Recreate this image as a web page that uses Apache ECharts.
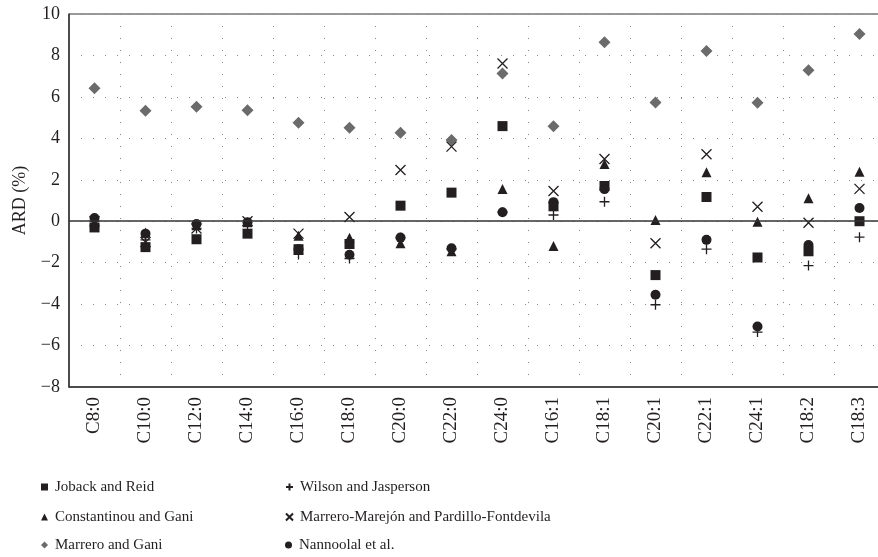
<!DOCTYPE html>
<html>
<head>
<meta charset="utf-8">
<script src="https://cdn.jsdelivr.net/npm/echarts@6/dist/echarts.min.js"></script>
<style>
  html, body { margin: 0; padding: 0; background: #fff; }
  #chart { width: 878px; height: 557px; }
</style>
</head>
<body>
<div id="chart"></div>
<script>
// Fatty acid chain labels (carbon count : double bonds)
const categories = ['C8:0', 'C10:0', 'C12:0', 'C14:0', 'C16:0', 'C18:0', 'C20:0', 'C22:0',
  'C24:0', 'C16:1', 'C18:1', 'C20:1', 'C22:1', 'C24:1', 'C18:2', 'C18:3'];

// Average relative deviation (%) per estimation method
const joback       = [-0.30, -1.25, -0.87, -0.60, -1.35, -1.10, 0.75, 1.38, 4.59, 0.72, 1.70, -2.60, 1.17, -1.75, -1.45, 0.00];
const constantinou = [-0.10, -0.55, -0.20, -0.05, -0.70, -0.80, -1.06, -1.45, 1.56, -1.19, 2.76, 0.06, 2.36, -0.02, 1.11, 2.39];
const marrero      = [6.42, 5.33, 5.52, 5.35, 4.75, 4.51, 4.27, 3.92, 7.13, 4.58, 8.64, 5.73, 8.21, 5.72, 7.29, 9.04];
const wilson       = [0.00, -0.90, -0.35, -0.20, -1.60, -1.80, -0.80, -1.35, 0.45, 0.30, 0.94, -4.03, -1.35, -5.35, -2.14, -0.77];
const mmpf         = [0.00, -1.00, -0.35, 0.00, -0.60, 0.20, 2.47, 3.60, 7.61, 1.46, 3.00, -1.06, 3.23, 0.70, -0.07, 1.56];
const nannoolal    = [0.15, -0.60, -0.13, -0.05, -1.35, -1.62, -0.79, -1.30, 0.43, 0.92, 1.55, -3.55, -0.90, -5.08, -1.15, 0.64];

const yTicks = { min: -8, max: 10, interval: 2 };

const names = {
  joback: 'Joback and Reid',
  constantinou: 'Constantinou and Gani',
  marrero: 'Marrero and Gani',
  wilson: 'Wilson and Jasperson',
  mmpf: 'Marrero-Marejón and Pardillo-Fontdevila',
  nannoolal: 'Nannoolal et al.'
};

const INK = '#231f20';
const SERIF = '"Liberation Serif", "DejaVu Serif", serif';
const PLUS = 'path://M0,5L10,5M5,0L5,10';
const CROSS = 'path://M0,0L10,10M10,0L0,10';

function filled(name, data, symbol, size, color) {
  return {
    name, type: 'scatter', data, symbol, symbolSize: size,
    itemStyle: { color: color, opacity: 1 },
    emphasis: { disabled: true }
  };
}
function stroked(name, data, symbol, size) {
  return {
    name, type: 'scatter', data, symbol, symbolSize: size,
    itemStyle: { color: 'rgba(0,0,0,0)', borderColor: INK, borderWidth: 1.3, opacity: 1 },
    emphasis: { disabled: true }
  };
}

const series = [
  filled(names.joback, joback, 'rect', 10, INK),
  filled(names.constantinou, constantinou, 'triangle', 10, INK),
  filled(names.marrero, marrero, 'diamond', 12, '#6b6b6b'),
  stroked(names.wilson, wilson, PLUS, 10),
  stroked(names.mmpf, mmpf, CROSS, 10),
  filled(names.nannoolal, nannoolal, 'circle', 10, INK)
];

// solid reference line at zero
series[0].markLine = {
  silent: true, symbol: ['none', 'none'], label: { show: false },
  lineStyle: { color: '#333', width: 1.5, type: 'solid' },
  data: [{ yAxis: 0 }],
  animation: false
};

// legend: two columns of three entries, one legend block per entry
const legendText = { fontFamily: SERIF, fontSize: 15, color: INK, lineHeight: 16, padding: [0, 0, 0, 2] };
const legendSlots = [
  [names.joback, 41, 479],
  [names.constantinou, 41, 509],
  [names.marrero, 41, 537],
  [names.wilson, 285, 479],
  [names.mmpf, 285, 509],
  [names.nannoolal, 285, 537]
];
const legends = legendSlots.map(([n, x, y]) => ({
  data: [n], left: x, top: y, padding: 0,
  itemWidth: 7, itemHeight: 7, textStyle: legendText, selectedMode: false
}));

const chart = echarts.init(document.getElementById('chart'), null, { renderer: 'canvas' });
chart.setOption({
  animation: false,
  backgroundColor: '#fff',
  grid: {
    left: 69, top: 14, width: 816, height: 373,
    outerBoundsMode: 'none', containLabel: false,
    show: true, borderColor: '#333', borderWidth: 1, backgroundColor: 'transparent'
  },
  legend: legends,
  xAxis: {
    type: 'category', data: categories, boundaryGap: true,
    axisLine: { onZero: false, lineStyle: { color: '#333', width: 1.5 } },
    axisTick: { show: false },
    axisLabel: { rotate: 90, margin: 10, fontFamily: SERIF, fontSize: 19, color: INK },
    splitLine: { show: true, lineStyle: { color: '#888', width: 1, type: [1, 11] } }
  },
  yAxis: {
    type: 'value', min: yTicks.min, max: yTicks.max, interval: yTicks.interval,
    name: 'ARD (%)', nameLocation: 'middle', nameGap: 40,
    nameTextStyle: { fontFamily: SERIF, fontSize: 18, color: INK },
    axisLine: { show: true, lineStyle: { color: '#333', width: 1.5 } },
    axisTick: { show: false },
    axisLabel: { margin: 9, fontFamily: SERIF, fontSize: 18, color: INK,
      formatter: v => (v < 0 ? '\u2212' + Math.abs(v) : String(v)) },
    splitLine: { show: true, lineStyle: { color: '#888', width: 1, type: [1, 11] } }
  },
  series
});
</script>
</body>
</html>
